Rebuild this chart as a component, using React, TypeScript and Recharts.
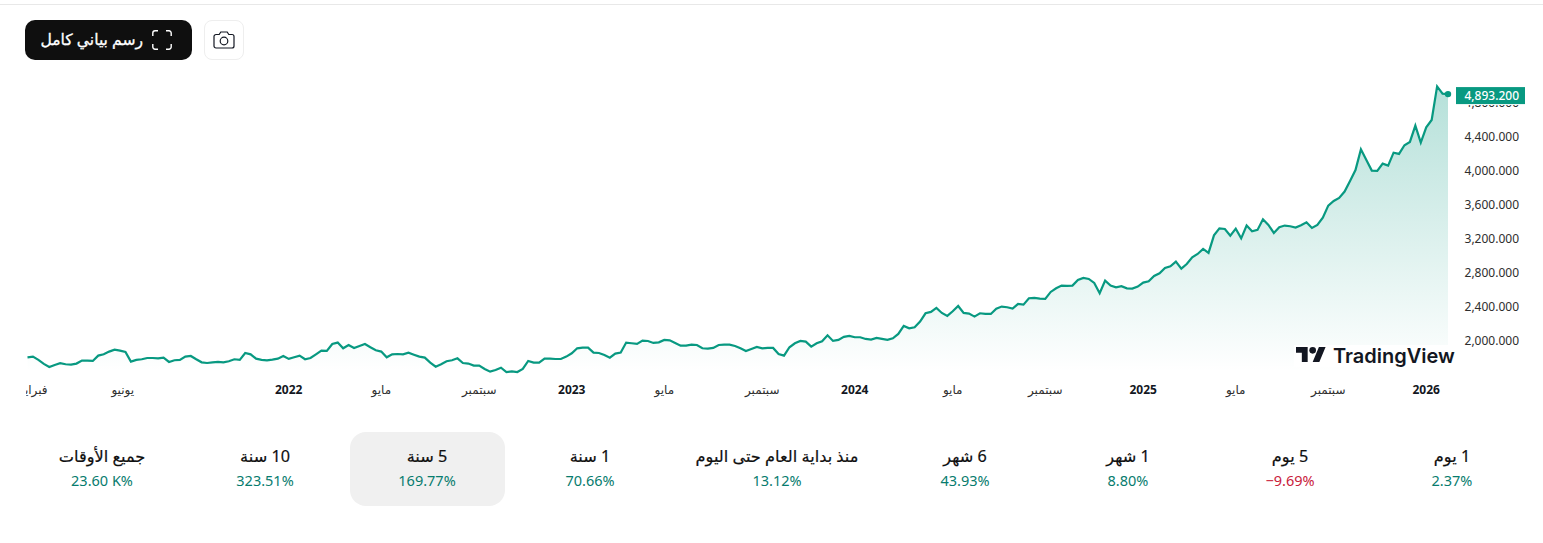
import { Area, AreaChart, ReferenceDot, XAxis, YAxis } from "recharts";

const prices = [
  1796, 1804, 1765, 1718, 1682, 1706, 1726, 1714, 1710, 1722,
  1757, 1757, 1753, 1816, 1831, 1863, 1886, 1875, 1859, 1745,
  1765, 1773, 1788, 1788, 1784, 1792, 1741, 1761, 1765, 1804,
  1812, 1773, 1737, 1729, 1737, 1741, 1737, 1749, 1773, 1765,
  1847, 1831, 1780, 1765, 1761, 1769, 1780, 1812, 1777, 1796,
  1816, 1773, 1788, 1831, 1875, 1871, 1953, 1969, 1902, 1941,
  1906, 1930, 1953, 1914, 1878, 1863, 1796, 1831, 1835, 1831,
  1851, 1827, 1804, 1792, 1733, 1686, 1714, 1749, 1761, 1784,
  1729, 1722, 1698, 1698, 1659, 1627, 1647, 1674, 1623, 1631,
  1623, 1659, 1753, 1733, 1733, 1780, 1780, 1776, 1776, 1804,
  1843, 1902, 1910, 1910, 1851, 1847, 1823, 1792, 1839, 1851,
  1969, 1961, 1953, 1992, 1988, 1965, 1972, 2000, 1996, 1965,
  1933, 1933, 1945, 1941, 1902, 1898, 1906, 1941, 1945, 1945,
  1929, 1902, 1870, 1894, 1918, 1902, 1906, 1906, 1835, 1816,
  1914, 1961, 1988, 1980, 1921, 1961, 1984, 2055, 1989, 2001,
  2036, 2048, 2032, 2032, 2012, 2004, 2024, 2012, 2001, 2020,
  2071, 2165, 2138, 2150, 2216, 2314, 2330, 2377, 2318, 2283,
  2338, 2400, 2318, 2310, 2275, 2314, 2306, 2306, 2369, 2393,
  2385, 2369, 2424, 2416, 2491, 2495, 2487, 2483, 2565, 2608,
  2640, 2636, 2640, 2706, 2730, 2718, 2671, 2549, 2698, 2640,
  2620, 2632, 2608, 2604, 2628, 2675, 2691, 2753, 2785, 2847,
  2867, 2922, 2839, 2894, 2973, 3012, 3071, 3024, 3231, 3314,
  3306, 3227, 3310, 3196, 3346, 3279, 3295, 3420, 3354, 3259,
  3326, 3346, 3338, 3322, 3350, 3385, 3318, 3354, 3440, 3581,
  3636, 3671, 3746, 3871, 4000, 4243, 4118, 3993, 3989, 4075,
  4052, 4204, 4189, 4291, 4330, 4522, 4322, 4502, 4588, 4984,
  4898, 4893.2,
];

const priceTicks = [2000, 2400, 2800, 3200, 3600, 4000, 4400, 4800];

// week index of each label on the time axis
const timeTicks = [1, 17.5, 48, 65, 83, 100, 117, 135, 152, 170, 187, 205, 222, 239, 257];
const timeLabels = ["فبراير", "يونيو", "2022", "مايو", "سبتمبر", "2023", "مايو", "سبتمبر", "2024", "مايو", "سبتمبر", "2025", "مايو", "سبتمبر", "2026"];

const rangeLabels = ["1 يوم", "5 يوم", "1 شهر", "6 شهر", "منذ بداية العام حتى اليوم", "1 سنة", "5 سنة", "10 سنة", "جميع الأوقات"];
const rangeChanges = ["2.37%", "−9.69%", "8.80%", "43.93%", "13.12%", "70.66%", "169.77%", "323.51%", "23.60 K%"];
const rangeCenters = [1452, 1290, 1128, 965, 777, 590, 427, 265, 102];

const chartData = prices.map((price, week) => ({ week, price }));
const lastWeek = prices.length - 1;
const lastPrice = prices[lastWeek];

const GREEN = "#089981";
const FONT = '"Noto Sans", "DejaVu Sans", sans-serif';

function TimeTick(props: { x?: number; y?: number; payload?: { value?: number } }) {
  const x = props.x ?? 0;
  const y = props.y ?? 0;
  const label = timeLabels[timeTicks.indexOf(props.payload?.value ?? 0)] ?? "";
  const isYear = /^\d+$/.test(label);
  return (
    <text
      x={x}
      y={y}
      dy={14}
      textAnchor="middle"
      fontSize={12}
      fontWeight={isYear ? 700 : 400}
      fill={isYear ? "#131722" : "#2e2e2e"}
      clipPath="url(#timeTickClip)"
    >
      {label}
    </text>
  );
}

// the 4,800 tick sits under the price tag, only its lower edge shows
function PriceTick(props: { x?: number; y?: number; payload?: { value?: number } }) {
  const value = props.payload?.value ?? 0;
  return (
    <text
      x={(props.x ?? 0) + 63}
      y={props.y ?? 0}
      dy={5}
      textAnchor="end"
      fontSize={12}
      fill="#2e2e2e"
      clipPath="url(#priceTickClip)"
    >
      {value.toLocaleString("en-US", { minimumFractionDigits: 3 })}
    </text>
  );
}

function LastPriceMark(props: { cx?: number; cy?: number }) {
  const cx = props.cx ?? 0;
  const cy = props.cy ?? 0;
  return (
    <g>
      <circle cx={cx} cy={cy} r={3.2} fill={GREEN} />
      <rect x={cx + 8} y={cy - 7} width={69} height={17} fill={GREEN} />
      <text x={cx + 71} y={cy} dy={5.5} textAnchor="end" fontSize={12} fontWeight={500} fill="#ffffff">
        {lastPrice.toLocaleString("en-US", { minimumFractionDigits: 3 })}
      </text>
    </g>
  );
}

function PriceChart() {
  return (
    <AreaChart
      width={1543}
      height={410}
      data={chartData}
      margin={{ top: 80, right: 0, bottom: 0, left: 27.5 }}
      style={{ position: "absolute", left: 0, top: 0, fontFamily: FONT }}
    >
      <defs>
        <linearGradient id="priceFill" x1="0" y1="0" x2="0" y2="1">
          <stop offset="0%" stopColor={GREEN} stopOpacity={0.3} />
          <stop offset="100%" stopColor={GREEN} stopOpacity={0} />
        </linearGradient>
        <clipPath id="timeTickClip">
          <rect x={26} y={370} width={1500} height={40} />
        </clipPath>
        <clipPath id="priceTickClip">
          <rect x={1450} y={105} width={93} height={260} />
        </clipPath>
      </defs>
      <XAxis
        dataKey="week"
        type="number"
        domain={[0, lastWeek]}
        ticks={timeTicks}
        interval={0}
        height={38}
        tickLine={false}
        axisLine={false}
        tick={<TimeTick />}
      />
      <YAxis
        orientation="right"
        domain={[1624, 5059]}
        ticks={priceTicks}
        interval={0}
        width={95}
        tickLine={false}
        axisLine={false}
        tick={<PriceTick />}
      />
      <Area
        type="linear"
        dataKey="price"
        stroke={GREEN}
        strokeWidth={2.2}
        fill="url(#priceFill)"
        fillOpacity={1}
        isAnimationActive={false}
      />
      <ReferenceDot x={lastWeek} y={lastPrice} ifOverflow="visible" shape={<LastPriceMark />} />
    </AreaChart>
  );
}

function ChartButtons() {
  return (
    <>
      <div
        style={{
          position: "absolute",
          left: 25,
          top: 20,
          width: 167,
          height: 40,
          borderRadius: 10,
          background: "#0f0f0f",
          color: "#ffffff",
          fontFamily: FONT,
          fontSize: 15.6,
          WebkitTextStroke: "0.3px #ffffff",
          lineHeight: "39px",
        }}
      >
        <svg width={20} height={20} viewBox="0 0 20 20" style={{ position: "absolute", left: 127, top: 10 }}>
          <path
            d="M6 .8H3A2.2 2.2 0 0 0 .8 3v3M14 .8h3A2.2 2.2 0 0 1 19.2 3v3M6 19.200H3A2.2 2.200 0 0 1 .8 17v-3M14 19.200h3a2.200 2.200 0 0 0 2.200-2.200v-3"
            fill="none"
            stroke="#ffffff"
            strokeWidth={1.4}
          />
        </svg>
        <span dir="rtl" style={{ position: "absolute", right: 49, top: 0, whiteSpace: "nowrap" }}>
          رسم بياني كامل
        </span>
      </div>
      <div
        style={{
          position: "absolute",
          left: 204,
          top: 20,
          width: 38,
          height: 38,
          border: "1px solid #eeeeee",
          borderRadius: 8,
          background: "#ffffff",
        }}
      >
        <svg width={22} height={18} viewBox="0 0 22 18" style={{ position: "absolute", left: 8, top: 10 }}>
          <path
            d="M1 5.500A2 2 0 0 1 3 3.500h3.200L7.800 1h6.400l1.600 2.500H19a2 2 0 0 1 2 2V15a2 2 0 0 1-2 2H3a2 2 0 0 1-2-2z"
            fill="none"
            stroke="#131722"
            strokeWidth={1.2}
          />
          <circle cx={11} cy={10} r={3.8} fill="none" stroke="#131722" strokeWidth={1.2} />
        </svg>
      </div>
    </>
  );
}

function Watermark() {
  return (
    <div style={{ position: "absolute", left: 1294, top: 345, width: 160, height: 22, background: "#ffffff" }}>
      <svg width={30} height={15} viewBox="0 4 36 18" style={{ position: "absolute", left: 2, top: 2 }}>
        <path d="M14 22H7V11H0V4h14v18zM28 22h-8l7.500-18h8L28 22z" fill="#131722" />
        <circle cx={20} cy={8} r={4} fill="#131722" />
      </svg>
      <span
        style={{
          position: "absolute",
          left: 39,
          top: -3,
          fontFamily: "Inter, sans-serif",
          fontSize: 20,
          fontWeight: 600,
          lineHeight: "28px",
          color: "#131722",
          whiteSpace: "nowrap",
        }}
      >
        TradingView
      </span>
    </div>
  );
}

function RangeTabs() {
  return (
    <>
      <div style={{ position: "absolute", left: 350, top: 432, width: 155, height: 74, borderRadius: 16, background: "#f0f0f0" }} />
      {rangeLabels.map((label, i) => (
        <div
          key={label}
          style={{
            position: "absolute",
            left: rangeCenters[i] - 120,
            width: 240,
            top: 445,
            textAlign: "center",
            fontFamily: FONT,
          }}
        >
          <div dir="rtl" style={{ fontSize: 16.2, WebkitTextStroke: "0.2px #0f0f0f", lineHeight: "22px", color: "#0f0f0f" }}>
            {label}
          </div>
          <div
            dir="ltr"
            style={{
              fontSize: 14.5,
              lineHeight: "26px",
              color: rangeChanges[i].startsWith("−") ? "#c9213c" : "#077c6e",
            }}
          >
            {rangeChanges[i]}
          </div>
        </div>
      ))}
    </>
  );
}

export default function App() {
  return (
    <div style={{ position: "absolute", left: 0, top: 0, width: 1543, height: 543, overflow: "hidden", background: "#ffffff" }}>
      <div style={{ position: "absolute", left: 0, top: 4, width: 1543, height: 1, background: "#e8e8e8" }} />
      <PriceChart />
      <ChartButtons />
      <Watermark />
      <RangeTabs />
    </div>
  );
}
